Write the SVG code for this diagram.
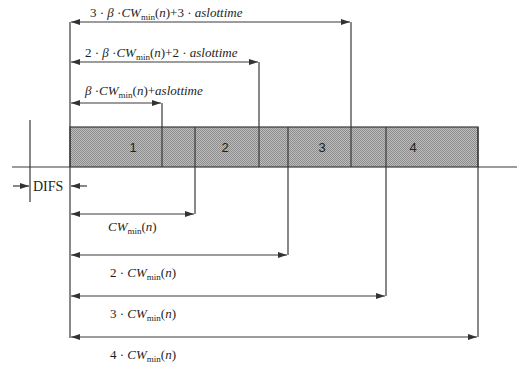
<svg xmlns="http://www.w3.org/2000/svg" width="517" height="366" viewBox="0 0 517 366">
<defs>
<pattern id="stip" width="2" height="2" patternUnits="userSpaceOnUse">
<rect width="2" height="2" fill="#bdbdbd"/>
<rect width="1" height="1" fill="#8c8c8c"/>
<rect x="1" y="1" width="1" height="1" fill="#8c8c8c"/>
</pattern>
<marker id="ah" viewBox="0 0 9 6" refX="9" refY="3" markerWidth="9" markerHeight="6" markerUnits="userSpaceOnUse" orient="auto-start-reverse">
<path d="M0,0 L9,3 L0,6 z" fill="#333"/>
</marker>
<style>
.ln{stroke:#3a3a3a;stroke-width:1.2;fill:none}
.ar{stroke:#3a3a3a;stroke-width:1.2;fill:none;marker-start:url(#ah);marker-end:url(#ah)}
.t{font-family:"Liberation Serif","Times New Roman",serif;font-size:13px;fill:#1e1e1e}
.i{font-style:italic}
.sub{font-size:9px;font-style:normal}
.num{font-family:"Liberation Sans",Arial,sans-serif;font-size:13px;fill:#222;text-anchor:middle}
</style>
</defs>
<rect width="517" height="366" fill="#fff"/>

<g id="bar">
<g id="seg1"><rect x="70" y="127" width="92" height="40" fill="url(#stip)"/><text class="num" x="133" y="152">1</text></g>
<g id="seg1b"><rect x="162" y="127" width="33" height="40" fill="url(#stip)"/></g>
<g id="seg2"><rect x="195" y="127" width="64" height="40" fill="url(#stip)"/><text class="num" x="225" y="152">2</text></g>
<g id="seg2b"><rect x="259" y="127" width="29" height="40" fill="url(#stip)"/></g>
<g id="seg3"><rect x="288" y="127" width="63" height="40" fill="url(#stip)"/><text class="num" x="322" y="152">3</text></g>
<g id="seg3b"><rect x="351" y="127" width="35" height="40" fill="url(#stip)"/></g>
<g id="seg4"><rect x="386" y="127" width="92" height="40" fill="url(#stip)"/><text class="num" x="413" y="152">4</text></g>
<rect x="70" y="127" width="408" height="40" class="ln"/>
</g>

<g id="connectors">
<line class="ln" x1="12" y1="167" x2="70" y2="167"/>
<line class="ln" x1="478" y1="167" x2="517" y2="167"/>
<line class="ln" x1="70" y1="22" x2="70" y2="338"/>
<line class="ln" x1="30" y1="120" x2="30" y2="202"/>
<line class="ln" x1="13" y1="186" x2="29" y2="186" marker-end="url(#ah)"/>
<line class="ln" x1="87" y1="186" x2="71" y2="186" marker-end="url(#ah)"/>
<line class="ln" x1="162" y1="103" x2="162" y2="167"/>
<line class="ln" x1="259" y1="62" x2="259" y2="167"/>
<line class="ln" x1="351" y1="22" x2="351" y2="167"/>
<line class="ln" x1="195" y1="127" x2="195" y2="214"/>
<line class="ln" x1="288" y1="127" x2="288" y2="255"/>
<line class="ln" x1="386" y1="127" x2="386" y2="296"/>
<line class="ln" x1="478" y1="127" x2="478" y2="337"/>
<line class="ar" x1="71" y1="22" x2="350" y2="22"/>
<line class="ar" x1="71" y1="62" x2="258" y2="62"/>
<line class="ar" x1="71" y1="103" x2="161" y2="103"/>
<line class="ar" x1="71" y1="214" x2="194" y2="214"/>
<line class="ar" x1="71" y1="255" x2="287" y2="255"/>
<line class="ar" x1="71" y1="296" x2="385" y2="296"/>
<line class="ar" x1="71" y1="337" x2="477" y2="337"/>
</g>

<g id="labels">
<text class="t" x="90" y="17">3 · <tspan class="i">β</tspan> ·<tspan class="i">CW</tspan><tspan class="sub" dy="3">min</tspan><tspan dy="-3">(</tspan><tspan class="i">n</tspan>)+3 · <tspan class="i">aslottime</tspan></text>
<text class="t" x="85" y="57">2 · <tspan class="i">β</tspan> ·<tspan class="i">CW</tspan><tspan class="sub" dy="3">min</tspan><tspan dy="-3">(</tspan><tspan class="i">n</tspan>)+2 · <tspan class="i">aslottime</tspan></text>
<text class="t" x="85" y="95"><tspan class="i">β</tspan> ·<tspan class="i">CW</tspan><tspan class="sub" dy="3">min</tspan><tspan dy="-3">(</tspan><tspan class="i">n</tspan>)+<tspan class="i">aslottime</tspan></text>
<text class="t" x="33" y="191" style="font-size:14px">DIFS</text>
<text class="t" x="108" y="231"><tspan class="i">CW</tspan><tspan class="sub" dy="3">min</tspan><tspan dy="-3">(</tspan><tspan class="i">n</tspan>)</text>
<text class="t" x="110" y="277">2 · <tspan class="i">CW</tspan><tspan class="sub" dy="3">min</tspan><tspan dy="-3">(</tspan><tspan class="i">n</tspan>)</text>
<text class="t" x="110" y="318">3 · <tspan class="i">CW</tspan><tspan class="sub" dy="3">min</tspan><tspan dy="-3">(</tspan><tspan class="i">n</tspan>)</text>
<text class="t" x="110" y="359">4 · <tspan class="i">CW</tspan><tspan class="sub" dy="3">min</tspan><tspan dy="-3">(</tspan><tspan class="i">n</tspan>)</text>
</g>
</svg>
